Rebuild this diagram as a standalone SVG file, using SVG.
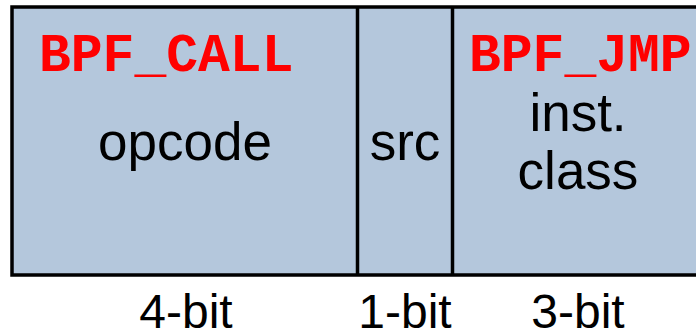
<svg xmlns="http://www.w3.org/2000/svg" width="696" height="331" viewBox="0 0 696 331">
<style>
.cell{fill:#b4c7dc;stroke:#000;stroke-width:3.5}
.div{stroke:#000;stroke-width:3.5}
.kw{font-family:"Liberation Mono",monospace;font-weight:bold;font-size:53px;fill:#ff0000}
.lbl{font-family:"Liberation Sans",Arial,sans-serif;font-size:53px;fill:#000;text-anchor:middle}
.bits{font-family:"Liberation Sans",Arial,sans-serif;font-size:48px;fill:#000;text-anchor:middle}
</style>
<rect width="696" height="331" fill="#fff"/>
<g id="field-box">
<rect class="cell" x="12" y="7" width="692" height="268"/>
</g>
<g id="connectors">
<line class="div" x1="357.5" y1="7" x2="357.5" y2="275"/>
<line class="div" x1="452.5" y1="7" x2="452.5" y2="275"/>
</g>
<g id="opcode">
<text class="kw" x="39" y="71">BPF_CALL</text>
<text class="lbl" x="185" y="160">opcode</text>
<text class="bits" x="186" y="328">4-bit</text>
</g>
<g id="src">
<text class="lbl" x="405" y="160">src</text>
<text class="bits" x="405" y="328">1-bit</text>
</g>
<g id="class">
<text class="kw" x="469" y="71">BPF_JMP</text>
<text class="lbl" x="578" y="131">inst.</text>
<text class="lbl" x="578" y="189">class</text>
<text class="bits" x="578" y="328">3-bit</text>
</g>
</svg>
